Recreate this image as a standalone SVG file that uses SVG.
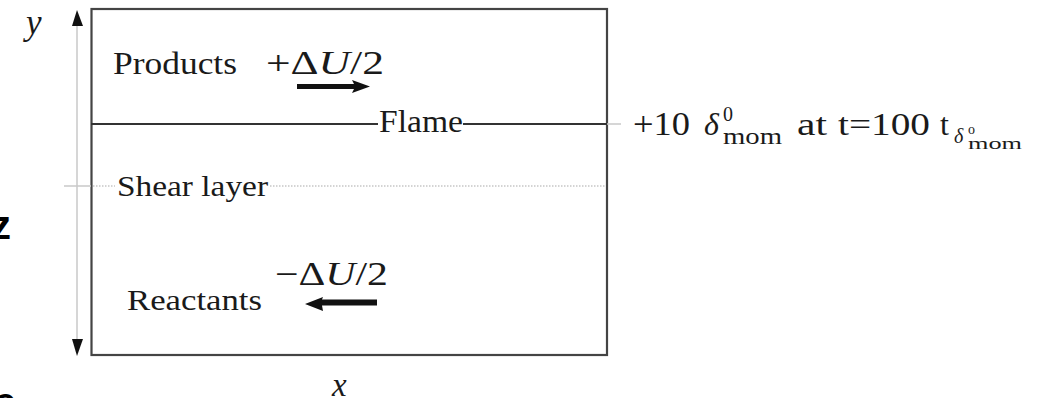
<svg xmlns="http://www.w3.org/2000/svg" width="1046" height="398" viewBox="0 0 1046 398">
  <style>
    .cm { font-family: "Liberation Serif", "Times New Roman", serif; fill: #1a1a1a; }
    .it { font-style: italic; }
    .sans { font-family: "Liberation Sans", Arial, sans-serif; fill: #000; font-weight: bold; }
    .box { fill: none; stroke: #444; stroke-width: 2.2; }
    .flame { stroke: #333; stroke-width: 2; fill: none; }
    .shear { stroke: #aaa; stroke-width: 1.2; stroke-dasharray: 1.5 1.5; fill: none; }
    .axis { stroke: #c8c8c8; stroke-width: 1.5; fill: none; }
    .head { fill: #111; }
  </style>
  <rect width="1046" height="398" fill="#fff"/>

  <g id="outside-letters">
    <text class="sans" x="-9" y="239" font-size="40">z</text>
    <text class="sans" x="-6" y="416" font-size="40">e</text>
  </g>

  <g id="domain">
    <rect class="box" x="91.5" y="9" width="515.5" height="346"/>
  </g>

  <g id="connectors">
    <!-- y axis -->
    <line class="axis" x1="77" y1="24" x2="77" y2="340"/>
    <polygon class="head" points="77,10 72,26 83,26"/>
    <polygon class="head" points="77,356 72,339 83,339"/>
    <!-- axis tick at shear layer -->
    <line class="axis" x1="64" y1="186" x2="91" y2="186"/>
    <!-- flame line -->
    <line class="flame" x1="91" y1="124" x2="378" y2="124"/>
    <line class="flame" x1="463" y1="124" x2="607" y2="124"/>
    <line class="axis" x1="607" y1="124" x2="621" y2="124"/>
    <!-- shear layer -->
    <line class="shear" x1="93" y1="186" x2="115" y2="186"/>
    <line class="shear" x1="270" y1="186" x2="606" y2="186"/>
    <!-- velocity arrows -->
    <polygon class="head" points="297,84 354,84 352,80 370,86.5 352,93 354,89 297,89"/>
    <polygon class="head" points="377,299.5 322,299.5 323,297 305,304 323,311 322,305.5 377,305.5"/>
  </g>

  <g id="axis-labels">
    <text class="cm it" x="26" y="34" font-size="35">y</text>
    <text class="cm it" x="332" y="396" font-size="33">x</text>
  </g>

  <g id="products">
    <text class="cm" x="113" y="74" font-size="32" textLength="124" lengthAdjust="spacingAndGlyphs">Products</text>
    <text class="cm" x="266" y="74" font-size="33" textLength="118" lengthAdjust="spacingAndGlyphs">+Δ<tspan class="it">U</tspan>/2</text>
  </g>

  <g id="flame">
    <text class="cm" x="379" y="132" font-size="31" textLength="84" lengthAdjust="spacingAndGlyphs">Flame</text>
  </g>

  <g id="shear-layer">
    <text class="cm" x="117" y="196" font-size="30" textLength="151" lengthAdjust="spacingAndGlyphs">Shear layer</text>
  </g>

  <g id="reactants">
    <text class="cm" x="127" y="310" font-size="30" textLength="135" lengthAdjust="spacingAndGlyphs">Reactants</text>
    <text class="cm" x="275" y="285" font-size="33" textLength="113" lengthAdjust="spacingAndGlyphs">−Δ<tspan class="it">U</tspan>/2</text>
  </g>

  <g id="flame-position">
    <text class="cm" x="633" y="135" font-size="33" textLength="57" lengthAdjust="spacingAndGlyphs">+10</text>
    <text class="cm it" x="704" y="135" font-size="32">δ</text>
    <text class="cm" x="723" y="121" font-size="20">0</text>
    <text class="cm" x="723" y="144" font-size="23" textLength="59" lengthAdjust="spacingAndGlyphs">mom</text>
    <text class="cm" x="797" y="135" font-size="32" textLength="30" lengthAdjust="spacingAndGlyphs">at</text>
    <text class="cm" x="838" y="135" font-size="32" textLength="92" lengthAdjust="spacingAndGlyphs">t=100</text>
    <text class="cm" x="940" y="135" font-size="32">t</text>
    <text class="cm it" x="954" y="143" font-size="20">δ</text>
    <text class="cm" x="968" y="134" font-size="14">o</text>
    <text class="cm" x="968" y="149" font-size="16" textLength="54" lengthAdjust="spacingAndGlyphs">mom</text>
  </g>
</svg>
